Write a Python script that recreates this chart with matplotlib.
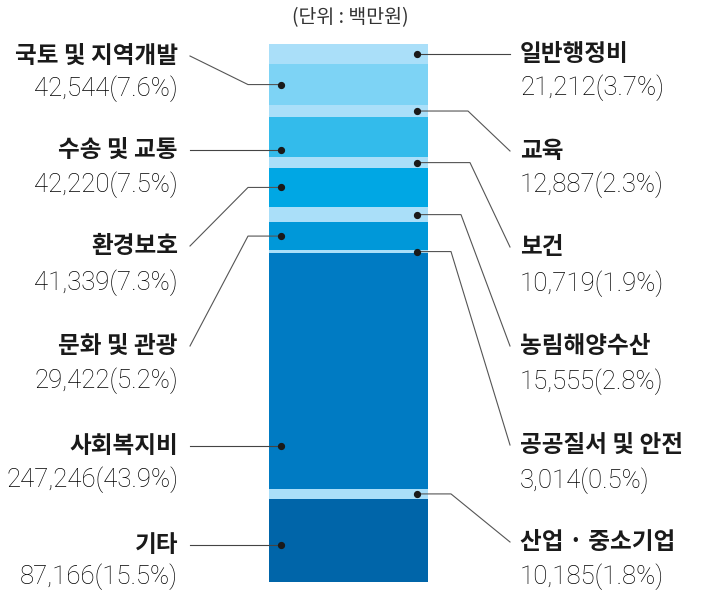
import numpy as np
import matplotlib.pyplot as plt

plt.rcParams['font.family'] = ['Noto Sans CJK KR', 'DejaVu Sans']

# 데이터 (단위: 백만원), 위에서 아래 순서
categories = ['일반행정비', '국토 및 지역개발', '교육', '수송 및 교통', '보건', '환경보호',
              '농림해양수산', '문화 및 관광', '공공질서 및 안전', '사회복지비', '산업 · 중소기업', '기타']
values = [21212, 42544, 12887, 42220, 10719, 41339, 15555, 29422, 3014, 247246, 10185, 87166]
shares = [3.7, 7.6, 2.3, 7.5, 1.9, 7.3, 2.8, 5.2, 0.5, 43.9, 1.8, 15.5]
sides = ['R', 'L', 'R', 'L', 'R', 'L', 'R', 'L', 'R', 'L', 'R', 'L']

light = '#aadff9'
colors = [light, '#7dd3f5', light, '#33bbeb', light, '#00a7e4',
          light, '#0098d9', light, '#007bc3', light, '#0065a9']

# 라벨 위치 (픽셀)
name_y = {'L': [56, 150, 246, 346, 446, 545], 'R': [54, 151, 247, 346, 445, 542]}
val_y = {'L': [89, 185, 283, 381, 480, 577], 'R': [88, 185, 284, 382, 481, 577]}
elbow_x = {'L': [248] * 6, 'R': [None, 468, 470, 461, 451, 451]}

W, H = 701, 594
fig = plt.figure(figsize=(W / 100, H / 100), dpi=100)

bar_l, bar_r, bar_t, bar_b = 269, 428, 44, 582
ax = fig.add_axes([bar_l / W, 1 - bar_b / H, (bar_r - bar_l) / W, (bar_b - bar_t) / H])
total = sum(values)
bottoms = np.concatenate([[0], np.cumsum(values)[:-1]])
ax.bar(0.5, values, bottom=bottoms, width=1.0, color=colors, linewidth=0)
ax.set_xlim(0, 1)
ax.set_ylim(total, 0)
ax.axis('off')

ov = fig.add_axes([0, 0, 1, 1], zorder=5)
ov.set_xlim(0, W)
ov.set_ylim(H, 0)
ov.axis('off')
ov.patch.set_alpha(0)


def to_px(x, y):
    disp = ax.transData.transform((x, y))
    return ov.transData.inverted().transform(disp)


ov.text(W / 2, 18, '(단위 : 백만원)', ha='center', va='center', fontsize=14, color='#333333')

cnt = {'L': 0, 'R': 0}
for cat, v, s, b, side in zip(categories, values, shares, bottoms, sides):
    i = cnt[side]
    cnt[side] += 1
    ny, vy = name_y[side][i], val_y[side][i]
    dot_x = 0.075 if side == 'L' else 0.93
    px_top = to_px(0, b)[1]
    px_bot = to_px(0, b + v)[1]
    if px_top + 3 <= ny <= px_bot - 3:
        dy = ny
    else:
        dy = (px_top + px_bot) / 2
    dx = to_px(dot_x, 0)[0]
    ex = elbow_x[side][i]
    if side == 'L':
        sx = 190
        tx, ha = 178, 'right'
    else:
        sx = 510
        tx, ha = 520, 'left'
    if abs(dy - ny) < 0.5 or ex is None:
        ov.plot([sx, dx], [dy, dy], color='#444444', lw=0.8)
    else:
        ov.plot([sx, ex, dx], [ny, dy, dy], color='#555555', lw=0.8)
    ov.plot(dx, dy, 'o', color='#1a1a1a', ms=4.2)
    ov.text(tx, ny, cat, ha=ha, va='center', fontsize=17, fontweight='bold', color='#1a1a1a')
    ov.text(tx, vy, f'{v:,}({s}%)', ha=ha, va='center', fontsize=18.5, fontweight='light',
            family=['Roboto', 'DejaVu Sans'], color='#000000')

fig.savefig('out.png', dpi=100)
